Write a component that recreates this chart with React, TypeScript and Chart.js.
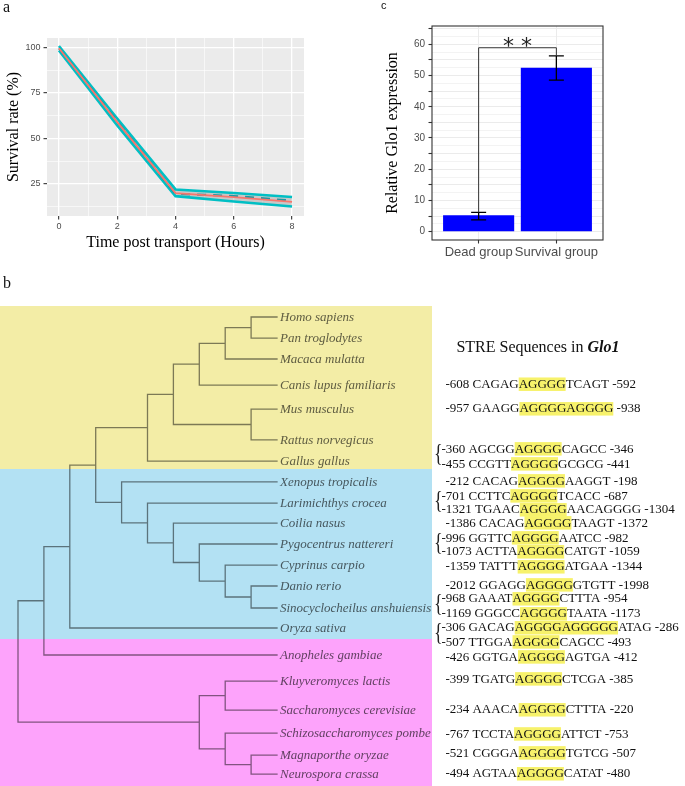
import React, { useEffect, useRef } from 'react';
import { Chart, registerables } from 'chart.js';

Chart.register(...registerables);

const SERIF = '"Liberation Serif", "Times New Roman", Times, serif';
const SANS = '"Liberation Sans", Arial, Helvetica, sans-serif';

// ---------- Panel a : survival after transport ----------
const hours = [0, 2, 4, 6, 8];
const survivalMean = [99.6, 59, 20, 17.8, 15.2];
const survivalUpper = [100.8, 61, 22, 20, 17.8];
const survivalLower = [98.4, 57.2, 18.3, 15.4, 12.6];
const survivalTrend = [99.5, 59.4, 19.6, 18.4, 15.8];
const survivalTicks = [12.5, 25, 37.5, 50, 62.5, 75, 87.5, 100];
const survivalLabelled = [25, 50, 75, 100];
const hourTicks = [0, 1, 2, 3, 4, 5, 6, 7, 8];
const hourLabelled = [0, 2, 4, 6, 8];

// ---------- Panel c : Glo1 expression ----------
const groups = ['Dead group', 'Survival group'];
const glo1Mean = [5.3, 52.5];
const glo1Low = [3.8, 48.5];
const glo1High = [6.2, 56.3];
const bracketLevel = 58.9;
const sigText = '* *';
const glo1Ticks = [0, 2.5, 5, 7.5, 10, 12.5, 15, 17.5, 20, 22.5, 25, 27.5, 30, 32.5, 35, 37.5, 40, 42.5, 45, 47.5, 50, 52.5, 55, 57.5, 60, 62.5, 65];
const glo1Marked = [0, 5, 10, 15, 20, 25, 30, 35, 40, 45, 50, 55, 60, 65];
const glo1Labelled = [0, 10, 20, 30, 40, 50, 60];

// ---------- Panel b : phylogenetic tree + STRE sequences ----------
const treeNewick =
  '(((((((((Homo sapiens,Pan troglodytes)9,Macaca mulatta)8,Canis lupus familiaris)7,(Mus musculus,Rattus norvegicus)9)6,Gallus gallus)5,' +
  '(Xenopus tropicalis,(Larimichthys crocea,(Coilia nasus,(Pygocentrus nattereri,(Cyprinus carpio,(Danio rerio,Sinocyclocheilus anshuiensis)9)8)7)6)5)4)3,' +
  'Oryza sativa)2,Anopheles gambiae)1,((Kluyveromyces lactis,Saccharomyces cerevisiae)8,(Schizosaccharomyces pombe,(Magnaporthe oryzae,Neurospora crassa)9)8)7)0';
const leafLevel = 10;
const species = [
  'Homo sapiens', 'Pan troglodytes', 'Macaca mulatta', 'Canis lupus familiaris', 'Mus musculus',
  'Rattus norvegicus', 'Gallus gallus', 'Xenopus tropicalis', 'Larimichthys crocea', 'Coilia nasus',
  'Pygocentrus nattereri', 'Cyprinus carpio', 'Danio rerio', 'Sinocyclocheilus anshuiensis', 'Oryza sativa',
  'Anopheles gambiae', 'Kluyveromyces lactis', 'Saccharomyces cerevisiae', 'Schizosaccharomyces pombe',
  'Magnaporthe oryzae', 'Neurospora crassa',
];
const leafRows = [0, 0.97, 1.93, 3.13, 4.23, 5.65, 6.62, 7.58, 8.55, 9.47, 10.43, 11.4, 12.36, 13.37, 14.29, 15.53, 16.73, 18.06, 19.12, 20.13, 21.0];
const cladeColors = ['#F3EDA6', '#B3E1F3', '#FDA3FB'];
const cladeTop = [-0.51, 6.99, 14.8];
const cladeBottom = [6.99, 14.8, 21.6];
const cladeRightLevel = 16;

const streTitle = 'STRE Sequences in ';
const streGene = 'Glo1';
const streTitleRow = 1.42;
const streSpecies = [
  'Canis lupus familiaris', 'Mus musculus', 'Gallus gallus', 'Gallus gallus', 'Xenopus tropicalis',
  'Larimichthys crocea', 'Larimichthys crocea', 'Coilia nasus', 'Pygocentrus nattereri', 'Pygocentrus nattereri',
  'Cyprinus carpio', 'Danio rerio', 'Sinocyclocheilus anshuiensis', 'Sinocyclocheilus anshuiensis',
  'Oryza sativa', 'Oryza sativa', 'Anopheles gambiae', 'Kluyveromyces lactis', 'Saccharomyces cerevisiae',
  'Schizosaccharomyces pombe', 'Magnaporthe oryzae', 'Neurospora crassa',
];
const streStart = ['-608', '-957', '-360', '-455', '-212', '-701', '-1321', '-1386', '-996', '-1073', '-1359', '-2012', '-968', '-1169', '-306', '-507', '-426', '-399', '-234', '-767', '-521', '-494'];
const streLeft = ['CAGAG', 'GAAGG', 'AGCGG', 'CCGTT', 'CACAG', 'CCTTC', 'TGAAC', 'CACAG', 'GGTTC', 'ACTTA', 'TATTT', 'GGAGG', 'GAAAT', 'GGGCC', 'GACAG', 'TTGGA', 'GGTGA', 'TGATG', 'AAACA', 'TCCTA', 'CGGGA', 'AGTAA'];
const streCore = ['AGGGG', 'AGGGGAGGGG', 'AGGGG', 'AGGGG', 'AGGGG', 'AGGGG', 'AGGGG', 'AGGGG', 'AGGGG', 'AGGGG', 'AGGGG', 'AGGGG', 'AGGGG', 'AGGGG', 'AGGGGAGGGGG', 'AGGGG', 'AGGGG', 'AGGGG', 'AGGGG', 'AGGGG', 'AGGGG', 'AGGGG'];
const streRight = ['TCAGT', '', 'CAGCC', 'GCGCG', 'AAGGT', 'TCACC', 'AACAGGGG', 'TAAGT', 'AATCC', 'CATGT', 'ATGAA', 'GTGTT', 'CTTTA', 'TAATA', 'ATAG', 'CAGCC', 'AGTGA', 'CTCGA', 'CTTTA', 'ATTCT', 'TGTCG', 'CATAT'];
const streEnd = ['-592', '-938', '-346', '-441', '-198', '-687', '-1304', '-1372', '-982', '-1059', '-1344', '-1998', '-954', '-1173', '-286', '-493', '-412', '-385', '-220', '-753', '-507', '-480'];
const streRows = [3.1, 4.23, 6.07, 6.76, 7.54, 8.23, 8.87, 9.47, 10.16, 10.8, 11.49, 12.32, 12.96, 13.65, 14.29, 14.94, 15.63, 16.64, 18.06, 19.17, 20.04, 21.0];

// ---------- helpers ----------
type TNode = { name?: string; level: number; children: TNode[]; row?: number };

function parseNewick(s: string): TNode {
  let i = 0;
  const readLabel = () => {
    let t = '';
    while (i < s.length && !',()'.includes(s[i])) t += s[i++];
    return t.trim();
  };
  const parse = (): TNode => {
    if (s[i] === '(') {
      i++;
      const children: TNode[] = [];
      for (;;) {
        children.push(parse());
        if (s[i] === ',') { i++; continue; }
        if (s[i] === ')') { i++; break; }
        break;
      }
      return { level: parseFloat(readLabel()), children };
    }
    return { name: readLabel(), level: leafLevel, children: [] };
  };
  return parse();
}

function layoutTree(n: TNode): number {
  if (!n.children.length) {
    n.row = leafRows[species.indexOf(n.name as string)];
    return n.row;
  }
  const rows = n.children.map(layoutTree);
  n.row = (rows[0] + rows[rows.length - 1]) / 2;
  return n.row;
}

function treeSegments(root: TNode) {
  const out: { x: number; y: number | null }[] = [];
  const walk = (n: TNode) => {
    if (!n.children.length) return;
    const first = n.children[0];
    const last = n.children[n.children.length - 1];
    out.push({ x: first.level, y: first.row as number });
    out.push({ x: n.level, y: first.row as number });
    out.push({ x: n.level, y: last.row as number });
    out.push({ x: last.level, y: last.row as number });
    out.push({ x: last.level, y: null });
    for (let k = 1; k < n.children.length - 1; k++) {
      const c = n.children[k];
      out.push({ x: n.level, y: c.row as number });
      out.push({ x: c.level, y: c.row as number });
      out.push({ x: c.level, y: null });
    }
    n.children.forEach(walk);
  };
  walk(root);
  return out;
}

const panelBg = (color: string) => ({
  id: 'panelBg',
  beforeDraw(chart: any) {
    const { ctx, chartArea: a } = chart;
    ctx.save();
    ctx.fillStyle = color;
    ctx.fillRect(a.left, a.top, a.right - a.left, a.bottom - a.top);
    ctx.restore();
  },
});

const baseOptions = {
  responsive: false,
  maintainAspectRatio: false,
  animation: false,
  events: [],
  plugins: { legend: { display: false }, tooltip: { enabled: false }, title: { display: false } },
};

// ---------- Panel a ----------
function PanelA() {
  const ref = useRef<HTMLCanvasElement>(null);
  useEffect(() => {
    const pts = (ys: number[]) => hours.map((h, i) => ({ x: h, y: ys[i] }));
    const chart = new Chart(ref.current as HTMLCanvasElement, {
      type: 'line',
      data: {
        datasets: [
          { data: pts(survivalUpper), borderColor: '#00BFC4', borderWidth: 2.6, fill: '+1', backgroundColor: 'rgba(128,128,128,0.32)', pointRadius: 0, tension: 0, order: 3 },
          { data: pts(survivalLower), borderColor: '#00BFC4', borderWidth: 2.6, fill: false, pointRadius: 0, tension: 0, order: 2 },
          { data: pts(survivalTrend), borderColor: '#1F97A3', borderWidth: 2.2, borderDash: [9, 7], fill: false, pointRadius: 0, tension: 0, order: 1 },
          { data: pts(survivalMean), borderColor: '#F8766D', borderWidth: 1.8, fill: false, pointRadius: 0, tension: 0, order: 0 },
        ],
      } as any,
      options: {
        ...baseOptions,
        layout: { padding: { top: 38, right: 16, left: 0, bottom: 0 } },
        scales: {
          x: {
            type: 'linear', min: -0.41, max: 8.41,
            afterBuildTicks: (s: any) => { s.ticks = hourTicks.map((v) => ({ value: v })); },
            afterFit: (s: any) => { s.height = 46; },
            border: { display: false },
            grid: {
              color: '#FFFFFF',
              lineWidth: (c: any) => (hourLabelled.includes(c.tick?.value) ? 1.3 : 0.6),
              tickColor: (c: any) => (hourLabelled.includes(c.tick?.value) ? '#333333' : 'rgba(0,0,0,0)'),
              tickWidth: 1.1,
              tickLength: 3.5,
            },
            ticks: {
              autoSkip: false, maxRotation: 0, padding: 1.5, color: '#4D4D4D',
              font: { family: SANS, size: 9 },
              callback: (v: any) => (hourLabelled.includes(v) ? String(v) : ''),
            },
            title: { display: true, text: 'Time post transport (Hours)', color: '#000', font: { family: SERIF, size: 16 }, padding: { top: 0, bottom: 10 } },
          },
          y: {
            type: 'linear', min: 7.4, max: 105.2,
            afterBuildTicks: (s: any) => { s.ticks = survivalTicks.map((v) => ({ value: v })); },
            afterFit: (s: any) => { s.width = 47; },
            border: { display: false },
            grid: {
              color: '#FFFFFF',
              lineWidth: (c: any) => (survivalLabelled.includes(c.tick?.value) ? 1.3 : 0.6),
              tickColor: (c: any) => (survivalLabelled.includes(c.tick?.value) ? '#333333' : 'rgba(0,0,0,0)'),
              tickWidth: 1.1,
              tickLength: 3.5,
            },
            ticks: {
              autoSkip: false, padding: 3, color: '#4D4D4D',
              font: { family: SANS, size: 9 },
              callback: (v: any) => (survivalLabelled.includes(v) ? String(v) : ''),
            },
            title: { display: true, text: 'Survival rate (%)', color: '#000', font: { family: SERIF, size: 16 }, padding: { top: 4, bottom: 0 } },
          },
        },
      } as any,
      plugins: [panelBg('#EBEBEB')],
    });
    return () => chart.destroy();
  }, []);
  return <canvas ref={ref} width={320} height={262} style={{ position: 'absolute', left: 0, top: 0, width: 320, height: 262 }} />;
}

// ---------- Panel c ----------
function PanelC() {
  const ref = useRef<HTMLCanvasElement>(null);
  useEffect(() => {
    const decor = {
      id: 'glo1Decor',
      afterDatasetsDraw(chart: any) {
        const { ctx, scales } = chart;
        const xs = scales.x, ys = scales.y;
        ctx.save();
        ctx.strokeStyle = '#000';
        ctx.lineWidth = 1.3;
        groups.forEach((_, i) => {
          const px = xs.getPixelForValue(i);
          const lo = ys.getPixelForValue(glo1Low[i]);
          const hi = ys.getPixelForValue(glo1High[i]);
          const w = 7.5;
          ctx.beginPath();
          ctx.moveTo(px, lo); ctx.lineTo(px, hi);
          ctx.moveTo(px - w, lo); ctx.lineTo(px + w, lo);
          ctx.moveTo(px - w, hi); ctx.lineTo(px + w, hi);
          ctx.stroke();
        });
        const x0 = xs.getPixelForValue(0);
        const x1 = xs.getPixelForValue(1);
        const yb = ys.getPixelForValue(bracketLevel);
        ctx.strokeStyle = '#333';
        ctx.lineWidth = 1;
        ctx.beginPath();
        ctx.moveTo(x0, ys.getPixelForValue(glo1High[0]));
        ctx.lineTo(x0, yb);
        ctx.lineTo(x1, yb);
        ctx.lineTo(x1, ys.getPixelForValue(glo1High[1]));
        ctx.stroke();
        ctx.fillStyle = '#222';
        ctx.font = '22px "DejaVu Sans", sans-serif';
        ctx.textAlign = 'center';
        ctx.textBaseline = 'alphabetic';
        ctx.fillText(sigText, (x0 + x1) / 2, yb + 5);
        ctx.restore();
      },
      afterDraw(chart: any) {
        const { ctx, chartArea: a } = chart;
        ctx.save();
        ctx.strokeStyle = '#333';
        ctx.lineWidth = 1.1;
        ctx.strokeRect(a.left, a.top, a.right - a.left, a.bottom - a.top);
        ctx.restore();
      },
    };
    const chart = new Chart(ref.current as HTMLCanvasElement, {
      type: 'bar',
      data: {
        datasets: [
          {
            data: groups.map((_, i) => ({ x: i, y: glo1Mean[i] })),
            backgroundColor: '#0000FF',
            borderWidth: 0,
            barPercentage: 0.915,
            categoryPercentage: 1,
          },
        ],
      } as any,
      options: {
        ...baseOptions,
        layout: { padding: { top: 26, right: 82, left: 0, bottom: 0 } },
        scales: {
          x: {
            type: 'linear', min: -0.6, max: 1.6, offset: false,
            afterBuildTicks: (s: any) => { s.ticks = groups.map((_, i) => ({ value: i })); },
            afterFit: (s: any) => { s.height = 25; },
            border: { display: false },
            grid: { offset: false, color: '#EBEBEB', lineWidth: 1, tickColor: '#333333', tickLength: 3.5, tickWidth: 1.1 },
            ticks: {
              autoSkip: false, maxRotation: 0, padding: 1, color: '#4D4D4D',
              font: { family: SANS, size: 13 },
              callback: (v: any) => groups[v] ?? '',
            },
          },
          y: {
            type: 'linear', min: -2.66, max: 65.86,
            afterBuildTicks: (s: any) => { s.ticks = glo1Ticks.map((v) => ({ value: v })); },
            afterFit: (s: any) => { s.width = 62; },
            border: { display: false },
            grid: {
              color: '#EBEBEB',
              lineWidth: (c: any) => (glo1Marked.includes(c.tick?.value) ? 1 : 0.6),
              tickColor: (c: any) => (glo1Marked.includes(c.tick?.value) ? '#333333' : 'rgba(0,0,0,0)'),
              tickWidth: 1.1,
              tickLength: 3.5,
            },
            ticks: {
              autoSkip: false, padding: 3.5, color: '#4D4D4D',
              font: { family: SANS, size: 10 },
              callback: (v: any) => (glo1Labelled.includes(v) ? String(v) : ''),
            },
            title: { display: true, text: 'Relative Glo1 expression', color: '#000', font: { family: SERIF, size: 16 }, padding: { top: 13.4, bottom: 0 } },
          },
        },
      } as any,
      plugins: [decor],
    });
    return () => chart.destroy();
  }, []);
  return <canvas ref={ref} width={315} height={265} style={{ position: 'absolute', left: 370, top: 0, width: 315, height: 265 }} />;
}

// ---------- Panel b ----------
function PanelB() {
  const ref = useRef<HTMLCanvasElement>(null);
  useEffect(() => {
    const root = parseNewick(treeNewick);
    layoutTree(root);
    const segs = treeSegments(root);

    const decor = {
      id: 'treeDecor',
      beforeDatasetsDraw(chart: any) {
        const { ctx, chartArea, scales } = chart;
        const xs = scales.x, ys = scales.y;
        const left = Math.round(chartArea.left);
        const right = Math.round(xs.getPixelForValue(cladeRightLevel));
        ctx.save();
        cladeColors.forEach((c, i) => {
          const t = Math.round(ys.getPixelForValue(cladeTop[i]));
          const b = Math.round(ys.getPixelForValue(cladeBottom[i]));
          ctx.fillStyle = c;
          ctx.fillRect(left, t, right - left, b - t);
        });
        ctx.restore();
        ctx.globalCompositeOperation = 'multiply';
      },
      afterDatasetsDraw(chart: any) {
        const { ctx, scales } = chart;
        const xs = scales.x, ys = scales.y;
        ctx.save();
        ctx.font = `italic 13px ${SERIF}`;
        ctx.fillStyle = 'rgb(100,100,100)';
        ctx.textBaseline = 'middle';
        species.forEach((name, i) => {
          ctx.fillText(name, xs.getPixelForValue(leafLevel) + 3, ys.getPixelForValue(leafRows[i]) + 0.5);
        });
        ctx.restore();
        ctx.globalCompositeOperation = 'source-over';

        const regionRight = xs.getPixelForValue(cladeRightLevel);
        ctx.save();
        ctx.textBaseline = 'middle';
        ctx.fillStyle = '#111';
        // title
        const ty = ys.getPixelForValue(streTitleRow);
        ctx.font = `16px ${SERIF}`;
        ctx.fillText(streTitle, regionRight + 24, ty);
        const tw = ctx.measureText(streTitle).width;
        ctx.font = `italic bold 16px ${SERIF}`;
        ctx.fillText(streGene, regionRight + 24 + tw, ty);

        // sequences
        ctx.font = `13px ${SERIF}`;
        const countFor = (n: string) => streSpecies.filter((s) => s === n).length;
        streStart.forEach((start, i) => {
          const paired = countFor(streSpecies[i]) > 1;
          let cx = regionRight + (paired ? 9 : 13);
          const cy = ys.getPixelForValue(streRows[i]);
          const a = `${start} ${streLeft[i]}`;
          ctx.fillStyle = '#111';
          ctx.fillText(a, cx, cy);
          cx += ctx.measureText(a).width;
          const cw = ctx.measureText(streCore[i]).width;
          ctx.fillStyle = '#F7F26B';
          ctx.fillRect(cx, cy - 7, cw, 13.5);
          ctx.fillStyle = '#111';
          ctx.fillText(streCore[i], cx, cy);
          cx += cw;
          ctx.fillText(`${streRight[i]} ${streEnd[i]}`, cx, cy);
        });

        // braces for species with two STRE sites
        const done = new Set<string>();
        streSpecies.forEach((n, i) => {
          if (done.has(n) || countFor(n) < 2) return;
          done.add(n);
          const idx = streSpecies.map((s, k) => (s === n ? k : -1)).filter((k) => k >= 0);
          const y0 = ys.getPixelForValue(streRows[idx[0]]);
          const y1 = ys.getPixelForValue(streRows[idx[idx.length - 1]]);
          ctx.save();
          ctx.translate(regionRight + 1.5, (y0 + y1) / 2 - 2);
          ctx.scale(0.7, 1);
          ctx.font = `26px ${SERIF}`;
          ctx.fillStyle = '#222';
          ctx.fillText('{', 0, 0);
          ctx.restore();
        });
        ctx.restore();
      },
    };

    const chart = new Chart(ref.current as HTMLCanvasElement, {
      type: 'line',
      data: {
        datasets: [
          {
            data: segs,
            borderColor: 'rgb(130,130,130)',
            borderWidth: 1.3,
            pointRadius: 0,
            spanGaps: false,
            fill: false,
            tension: 0,
            borderJoinStyle: 'miter',
            borderCapStyle: 'square',
          },
        ],
      } as any,
      options: {
        ...baseOptions,
        layout: { padding: 0 },
        scales: {
          x: { type: 'linear', display: false, min: -0.695, max: 25.753 },
          y: { type: 'linear', display: false, reverse: true, min: -2.16, max: 21.55 },
        },
      } as any,
      plugins: [decor],
    });
    return () => chart.destroy();
  }, []);
  return <canvas ref={ref} width={685} height={516} style={{ position: 'absolute', left: 0, top: 270, width: 685, height: 516 }} />;
}

export default function App() {
  return (
    <div style={{ position: 'absolute', left: 0, top: 0, width: 685, height: 786, background: '#fff', overflow: 'hidden' }}>
      <PanelA />
      <PanelC />
      <PanelB />
      <div style={{ position: 'absolute', left: 3, top: -1, font: `16px ${SERIF}`, lineHeight: '16px', color: '#111' }}>a</div>
      <div style={{ position: 'absolute', left: 3, top: 275, font: `16px ${SERIF}`, lineHeight: '16px', color: '#111' }}>b</div>
      <div style={{ position: 'absolute', left: 381, top: 0, font: `11px ${SANS}`, lineHeight: '11px', color: '#111' }}>c</div>
    </div>
  );
}
